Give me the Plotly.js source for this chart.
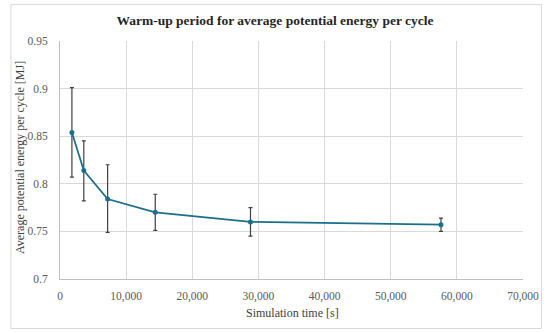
<!DOCTYPE html>
<html><head><meta charset="utf-8">
<script src="https://cdn.plot.ly/plotly-3.0.1.min.js"></script>
<style>html,body{margin:0;padding:0;background:#fff}#c{width:550px;height:333px}</style>
</head><body><div id="c"></div>
<script>
const simTime = [1800, 3600, 7200, 14400, 28800, 57600];
const energy = [0.854, 0.814, 0.784, 0.770, 0.760, 0.757];
const errPlus = [0.047, 0.031, 0.036, 0.019, 0.015, 0.007];
const errMinus = [0.047, 0.032, 0.035, 0.019, 0.015, 0.007];
const xTicks = [0, 10000, 20000, 30000, 40000, 50000, 60000, 70000];
const yTicks = [0.7, 0.75, 0.8, 0.85, 0.9, 0.95];

const font = "'Liberation Serif', 'DejaVu Serif', serif";
Plotly.newPlot('c', [{
  x: simTime, y: energy, type: 'scatter', mode: 'lines+markers',
  line: {color: '#1b6f8a', width: 1.75},
  marker: {color: '#1b6f8a', size: 5},
  error_y: {type: 'data', symmetric: false, array: errPlus, arrayminus: errMinus,
    color: '#404040', thickness: 1.2, width: 2}
}], {
  width: 550, height: 333,
  margin: {l: 60, r: 27, t: 41, b: 54},
  paper_bgcolor: '#fff', plot_bgcolor: '#fff',
  font: {family: font, size: 11, color: '#595959'},
  title: {text: 'Warm-up period for average potential energy per cycle', x: 0.5, xanchor: 'center', y: 0.938, yanchor: 'middle',
    font: {family: font, size: 13.5, color: '#262626', weight: 'bold'}},
  xaxis: {range: [0, 70000], tickvals: xTicks, ticktext: xTicks.map(v => v.toLocaleString('en-US')),
    showgrid: true, gridcolor: '#d9d9d9', showline: true, linecolor: '#bfbfbf', zeroline: false,
    ticks: 'outside', ticklen: 6, tickcolor: 'rgba(0,0,0,0)', tickfont: {size: 11.5, color: '#595959'}},
  yaxis: {range: [0.7, 0.95], tickvals: yTicks, ticktext: yTicks.map(v => String(v)),
    showgrid: true, gridcolor: '#d9d9d9', showline: true, linecolor: '#bfbfbf', zeroline: false,
    ticks: 'outside', ticklen: 9, tickcolor: 'rgba(0,0,0,0)', tickfont: {size: 11.5, color: '#595959'}},
  showlegend: false,
  annotations: [
    {text: 'Simulation time [s]', xref: 'paper', yref: 'paper', x: (292-60)/463, y: -(313-279)/238,
     xanchor: 'center', yanchor: 'middle', showarrow: false, font: {size: 12, color: '#404040'}},
    {text: 'Average potential energy per cycle [MJ]', xref: 'paper', yref: 'paper', x: (20-60)/463, y: (279-158)/238,
     xanchor: 'center', yanchor: 'middle', textangle: -90, showarrow: false, font: {size: 12, color: '#404040'}}
  ],
  shapes: [{type: 'rect', xref: 'paper', yref: 'paper', x0: -0.106, x1: 1.04, y0: -0.208, y1: 1.153,
    line: {color: '#d9d9d9', width: 1}, fillcolor: 'rgba(0,0,0,0)', layer: 'below'}]
}, {displayModeBar: false, staticPlot: true});
</script></body></html>
